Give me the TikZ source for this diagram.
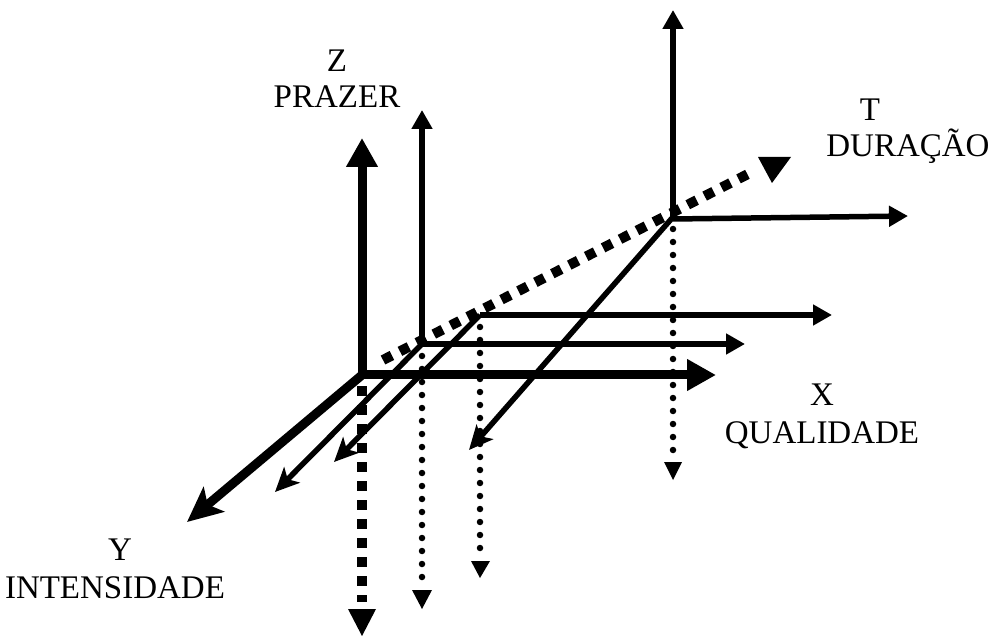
\documentclass[tikz,border=0pt]{standalone}
\usepackage{fontspec}
\setmainfont{Liberation Serif}
\usetikzlibrary{arrows.meta}
\begin{document}
\begin{tikzpicture}[x=1pt,y=-1pt,
  thickax/.style={line width=9pt,-{Triangle[length=29pt,width=30pt]}},
  thinax/.style={line width=5.5pt,-{Triangle[length=19pt,width=20pt]}},
  thickdiag/.style={line width=9pt,-{Stealth[length=35pt,width=32pt,inset=8pt]}},
  thindiag/.style={line width=5.5pt,-{Stealth[length=24pt,width=22pt,inset=6pt]}},
  sqdots/.style={line width=10pt,line cap=butt,dash pattern=on 10pt off 9pt},
  rounddots/.style={line width=6.5pt,line cap=round,dash pattern=on 0pt off 13pt},
  tipfill/.style={fill=black},
  lbl/.style={font=\fontsize{33}{39}\selectfont,anchor=base,inner sep=0pt}]
\useasboundingbox (0,0) rectangle (991,636);
% origins
\coordinate (O1) at (362,375);
\coordinate (O2) at (422,344);
\coordinate (O3) at (480,315);
\coordinate (O4) at (673,217);
% tips
\coordinate (Z1) at (362,138);
\coordinate (X1) at (716,375);
\coordinate (Y1) at (187,522);
\coordinate (Z2) at (422,110);
\coordinate (X2) at (745,344);
\coordinate (Y2) at (275,492);
\coordinate (X3) at (832,315);
\coordinate (Y3) at (334,462);
\coordinate (Z4) at (673,10);
\coordinate (X4s) at (673,219);
\coordinate (X4) at (908,216);
\coordinate (Y4) at (469,450);
% dotted lines
\coordinate (D1a) at (362,386);
\coordinate (D1b) at (362,602);
\coordinate (D2a) at (422,356);
\coordinate (D2b) at (422,582);
\coordinate (D3a) at (480,327);
\coordinate (D3b) at (480,552);
\coordinate (D4a) at (673,229);
\coordinate (D4b) at (673,455);
\coordinate (Ta) at (383,360);
\coordinate (Tb) at (752,172);
\draw[sqdots] (Ta) -- (Tb);
\fill[tipfill] (758,157) -- (791,157) -- (772,183) -- cycle;
\draw[sqdots] (D1a) -- (D1b);
\fill[tipfill] (348,609) -- (376,609) -- (362,636) -- cycle;
\draw[rounddots] (D2a) -- (D2b);
\fill[tipfill] (412,590) -- (432,590) -- (422,609) -- cycle;
\draw[rounddots] (D3a) -- (D3b);
\fill[tipfill] (471,561) -- (490,561) -- (480,578) -- cycle;
\draw[rounddots] (D4a) -- (D4b);
\fill[tipfill] (664,462) -- (682,462) -- (673,480) -- cycle;
% solid axes
\draw[thickax] (O1) -- (Z1);
\draw[thickax] (O1) -- (X1);
\draw[thickdiag] (O1) -- (Y1);
\draw[thinax] (O2) -- (Z2);
\draw[thinax] (O2) -- (X2);
\draw[thindiag] (O2) -- (Y2);
\draw[thinax] (O3) -- (X3);
\draw[thindiag] (O3) -- (Y3);
\draw[thinax] (O4) -- (Z4);
\draw[thinax] (X4s) -- (X4);
\draw[thindiag] (O4) -- (Y4);
% labels
\node[lbl] (lz) at (337,72) {Z};
\node[lbl] (lprazer) at (337,108) {PRAZER};
\node[lbl] (lt) at (870,121) {T};
\node[lbl] (lduracao) at (908,157) {DURAÇÃO};
\node[lbl] (lx) at (822,406) {X};
\node[lbl] (lqual) at (822,443) {QUALIDADE};
\node[lbl] (ly) at (120,560) {Y};
\node[lbl] (lint) at (115,598) {INTENSIDADE};
\end{tikzpicture}
\end{document}
